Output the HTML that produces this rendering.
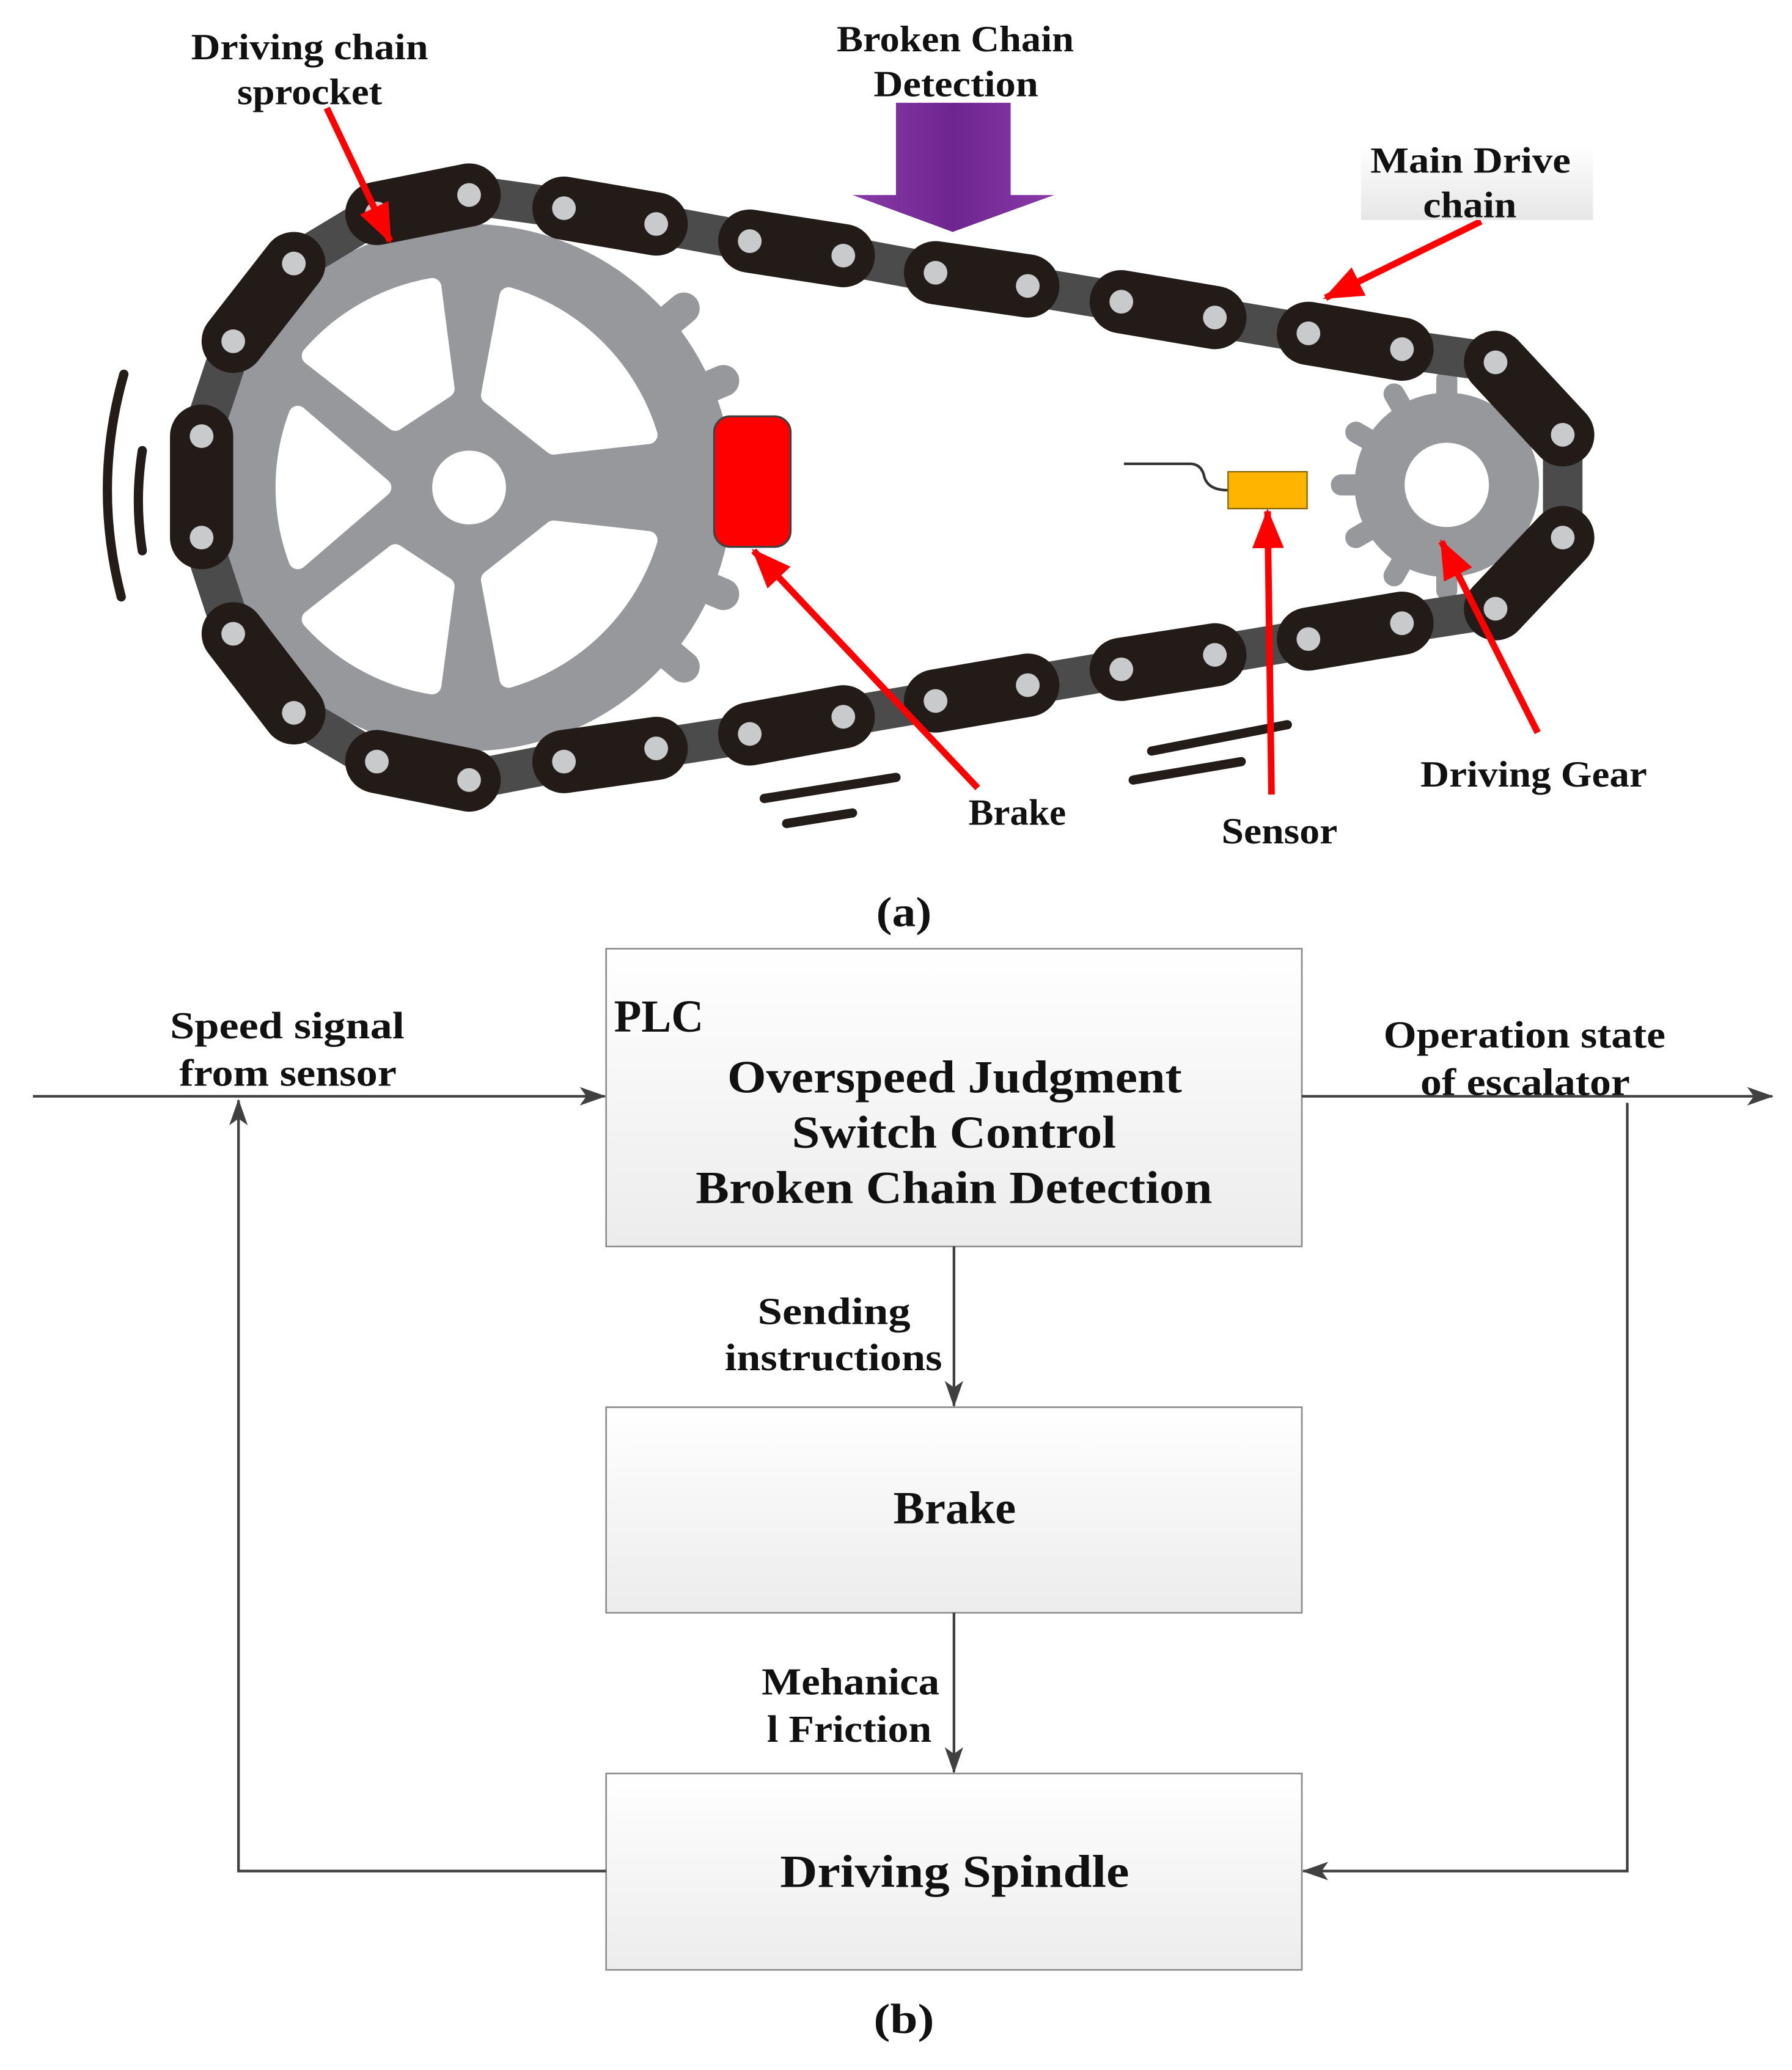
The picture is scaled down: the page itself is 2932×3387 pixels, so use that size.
<!DOCTYPE html>
<html><head><meta charset="utf-8"><style>html,body{margin:0;padding:0;background:#fff}svg{display:block}</style></head>
<body>
<svg xmlns="http://www.w3.org/2000/svg" width="2932" height="3387" viewBox="0 0 1360 1571" preserveAspectRatio="none" font-family="'Liberation Serif', serif">
<defs>
<linearGradient id="box" x1="0" y1="0" x2="0" y2="1"><stop offset="0" stop-color="#ffffff"/><stop offset="1" stop-color="#ececec"/></linearGradient>
<linearGradient id="pur" x1="0" y1="0" x2="1" y2="0"><stop offset="0" stop-color="#8a3aa8"/><stop offset="0.5" stop-color="#6e2590"/><stop offset="1" stop-color="#8a3aa8"/></linearGradient>
<linearGradient id="lbl" x1="0" y1="0" x2="0" y2="1"><stop offset="0" stop-color="#fff"/><stop offset="1" stop-color="#e6e6e6"/></linearGradient>
<marker id="ahb" viewBox="0 0 20 14" markerWidth="20" markerHeight="14" refX="19" refY="7" orient="auto" markerUnits="userSpaceOnUse"><path d="M0,0 L20,7 L0,14 L5,7 Z" fill="#404040"/></marker>
<marker id="rh" viewBox="0 0 30 24" markerWidth="30" markerHeight="24" refX="28" refY="12" orient="auto" markerUnits="userSpaceOnUse"><path d="M0,0 L30,12 L0,24 Z" fill="#ff0000"/></marker>
</defs>

<!-- big sprocket -->
<g fill="#97989c" stroke="#97989c" stroke-width="24" stroke-linecap="round">
<line x1="356" y1="370" x2="549" y2="289"/>
<line x1="356" y1="370" x2="549" y2="451"/>
<line x1="356" y1="370" x2="519" y2="234"/>
<line x1="356" y1="370" x2="519" y2="506"/>
<line x1="356" y1="370" x2="562" y2="370"/>
</g>
<circle cx="356" cy="370" r="200" fill="#97989c"/>
<g fill="#ffffff" stroke="#ffffff" stroke-width="14" stroke-linejoin="round">
<path d="M372,300 L386,225 A158,158 0 0 1 492,330 L420,338 Z"/>
<path d="M420,402 L492,410 A158,158 0 0 1 386,515 L372,440 Z"/>
<path d="M338,445 L328,520 A158,158 0 0 1 236,470 L300,420 Z"/>
<path d="M290,370 L226,425 A158,158 0 0 1 226,315 Z"/>
<path d="M300,320 L236,270 A158,158 0 0 1 328,218 L338,295 Z"/>
</g>
<circle cx="356" cy="370" r="28" fill="#fff"/>

<!-- small gear -->
<g stroke="#97989c" stroke-width="16" stroke-linecap="round">
<line x1="1098" y1="368" x2="1018" y2="368"/>
<line x1="1098" y1="368" x2="1029" y2="328"/>
<line x1="1098" y1="368" x2="1029" y2="408"/>
<line x1="1098" y1="368" x2="1058" y2="299"/>
<line x1="1098" y1="368" x2="1058" y2="437"/>
<line x1="1098" y1="368" x2="1098" y2="288"/>
<line x1="1098" y1="368" x2="1098" y2="448"/>
</g>
<circle cx="1098" cy="368" r="70" fill="#97989c"/>
<circle cx="1098" cy="368" r="32" fill="#fff"/>

<!-- chain band -->
<polygon points="286,162 356,148 428,158 498,170 569,183 640,194 710,207 780,217 851,229 922,241 993,253 1064,265 1135,275 1186,330 1186,408 1135,462 1064,473 993,485 922,497 851,508 780,520 710,532 640,544 569,557 498,568 428,578 356,592 286,578 223,541 177,481 153,408 153,331 177,259 223,200" fill="none" stroke="#4b4b4b" stroke-width="30" stroke-linejoin="round"/>
<g stroke="#221b18" stroke-width="48" stroke-linecap="round">
<line x1="286" y1="162" x2="356" y2="148"/>
<line x1="428" y1="158" x2="498" y2="170"/>
<line x1="569" y1="183" x2="640" y2="194"/>
<line x1="710" y1="207" x2="780" y2="217"/>
<line x1="851" y1="229" x2="922" y2="241"/>
<line x1="993" y1="253" x2="1064" y2="265"/>
<line x1="1135" y1="275" x2="1186" y2="330"/>
<line x1="1186" y1="408" x2="1135" y2="462"/>
<line x1="1064" y1="473" x2="993" y2="485"/>
<line x1="922" y1="497" x2="851" y2="508"/>
<line x1="780" y1="520" x2="710" y2="532"/>
<line x1="640" y1="544" x2="569" y2="557"/>
<line x1="498" y1="568" x2="428" y2="578"/>
<line x1="356" y1="592" x2="286" y2="578"/>
<line x1="223" y1="541" x2="177" y2="481"/>
<line x1="153" y1="408" x2="153" y2="331"/>
<line x1="177" y1="259" x2="223" y2="200"/>
</g>
<g fill="#c9cacc">
<circle cx="286" cy="162" r="9"/><circle cx="356" cy="148" r="9"/><circle cx="428" cy="158" r="9"/><circle cx="498" cy="170" r="9"/><circle cx="569" cy="183" r="9"/><circle cx="640" cy="194" r="9"/><circle cx="710" cy="207" r="9"/><circle cx="780" cy="217" r="9"/><circle cx="851" cy="229" r="9"/><circle cx="922" cy="241" r="9"/><circle cx="993" cy="253" r="9"/><circle cx="1064" cy="265" r="9"/><circle cx="1135" cy="275" r="9"/><circle cx="1186" cy="330" r="9"/><circle cx="1186" cy="408" r="9"/><circle cx="1135" cy="462" r="9"/><circle cx="1064" cy="473" r="9"/><circle cx="993" cy="485" r="9"/><circle cx="922" cy="497" r="9"/><circle cx="851" cy="508" r="9"/><circle cx="780" cy="520" r="9"/><circle cx="710" cy="532" r="9"/><circle cx="640" cy="544" r="9"/><circle cx="569" cy="557" r="9"/><circle cx="498" cy="568" r="9"/><circle cx="428" cy="578" r="9"/><circle cx="356" cy="592" r="9"/><circle cx="286" cy="578" r="9"/><circle cx="223" cy="541" r="9"/><circle cx="177" cy="481" r="9"/><circle cx="153" cy="408" r="9"/><circle cx="153" cy="331" r="9"/><circle cx="177" cy="259" r="9"/><circle cx="223" cy="200" r="9"/>
</g>

<g stroke="#231c19" stroke-width="7" stroke-linecap="round" fill="none">
<path d="M94,284 Q70,368 92,453"/>
<path d="M108,342 Q102,380 108,418"/>
<line x1="580" y1="606" x2="680" y2="590"/>
<line x1="597" y1="625" x2="647" y2="617"/>
<line x1="874" y1="570" x2="977" y2="550"/>
<line x1="860" y1="592" x2="942" y2="578"/>
</g>

<rect x="542" y="316" width="58" height="99" rx="12" fill="#ff0000" stroke="#404040" stroke-width="1.5"/>
<path d="M853,352 L903,352 Q912,352 914,362 Q917,372 932,372" fill="none" stroke="#333" stroke-width="2"/>
<rect x="932" y="358" width="60" height="28" fill="#ffb400" stroke="#806000" stroke-width="1"/>

<path d="M680,78 L767,78 L767,148 L800,148 L723,176 L647,148 L680,148 Z" fill="url(#pur)"/>

<g stroke="#ff0000" stroke-width="5" fill="none">
<line x1="248" y1="82" x2="296" y2="183" marker-end="url(#rh)"/>
<line x1="742" y1="598" x2="572" y2="418" marker-end="url(#rh)"/>
<line x1="1124" y1="168" x2="1006" y2="226" marker-end="url(#rh)"/>
<line x1="965" y1="603" x2="962" y2="388" marker-end="url(#rh)"/>
<line x1="1167" y1="556" x2="1094" y2="411" marker-end="url(#rh)"/>
</g>

<rect x="1033" y="110" width="176" height="57" fill="url(#lbl)"/>

<g font-size="28" font-weight="bold" fill="#111" lengthAdjust="spacingAndGlyphs">
<text x="145" y="45" textLength="180" lengthAdjust="spacingAndGlyphs">Driving chain</text>
<text x="180" y="79" textLength="110" lengthAdjust="spacingAndGlyphs">sprocket</text>
<text x="635" y="39" textLength="180" lengthAdjust="spacingAndGlyphs">Broken Chain</text>
<text x="663" y="73" textLength="125" lengthAdjust="spacingAndGlyphs">Detection</text>
<text x="1040" y="131" textLength="152" lengthAdjust="spacingAndGlyphs">Main Drive</text>
<text x="1080" y="165" textLength="71" lengthAdjust="spacingAndGlyphs">chain</text>
<text x="735" y="626" textLength="74" lengthAdjust="spacingAndGlyphs">Brake</text>
<text x="927" y="640" textLength="88" lengthAdjust="spacingAndGlyphs">Sensor</text>
<text x="1078" y="597" textLength="172" lengthAdjust="spacingAndGlyphs">Driving Gear</text>
<text x="665" y="703" font-size="32" textLength="42" lengthAdjust="spacingAndGlyphs">(a)</text>
</g>

<g fill="url(#box)" stroke="#8a8a8a" stroke-width="1.2">
<rect x="460" y="720" width="528" height="226"/>
<rect x="460" y="1068" width="528" height="156"/>
<rect x="460" y="1346" width="528" height="149"/>
</g>
<g fill="#111" font-size="35" font-weight="bold">
<text x="466" y="783" textLength="68" lengthAdjust="spacingAndGlyphs">PLC</text>
<text x="552" y="829" textLength="345" lengthAdjust="spacingAndGlyphs">Overspeed Judgment</text>
<text x="601" y="871" textLength="246" lengthAdjust="spacingAndGlyphs">Switch Control</text>
<text x="528" y="913" textLength="392" lengthAdjust="spacingAndGlyphs">Broken Chain Detection</text>
<text x="678" y="1156" textLength="93" lengthAdjust="spacingAndGlyphs">Brake</text>
<text x="592" y="1432" textLength="265" lengthAdjust="spacingAndGlyphs">Driving Spindle</text>
</g>

<g stroke="#404040" stroke-width="2" fill="none">
<line x1="25" y1="832" x2="459" y2="832" marker-end="url(#ahb)"/>
<line x1="988" y1="832" x2="1345" y2="832" marker-end="url(#ahb)"/>
<line x1="724" y1="946" x2="724" y2="1067" marker-end="url(#ahb)"/>
<line x1="724" y1="1224" x2="724" y2="1345" marker-end="url(#ahb)"/>
<polyline points="460,1420 181,1420 181,835" marker-end="url(#ahb)"/>
<polyline points="1235,837 1235,1420 989,1420" marker-end="url(#ahb)"/>
</g>

<g fill="#111" font-size="29" font-weight="bold">
<text x="129" y="788" textLength="178" lengthAdjust="spacingAndGlyphs">Speed signal</text>
<text x="136" y="824" textLength="165" lengthAdjust="spacingAndGlyphs">from sensor</text>
<text x="1050" y="795" textLength="214" lengthAdjust="spacingAndGlyphs">Operation state</text>
<text x="1078" y="831" textLength="159" lengthAdjust="spacingAndGlyphs">of escalator</text>
<text x="575" y="1005" textLength="116" lengthAdjust="spacingAndGlyphs">Sending</text>
<text x="550" y="1040" textLength="165" lengthAdjust="spacingAndGlyphs">instructions</text>
<text x="578" y="1286" textLength="135" lengthAdjust="spacingAndGlyphs">Mehanica</text>
<text x="582" y="1322" textLength="125" lengthAdjust="spacingAndGlyphs">l Friction</text>
<text x="663" y="1543" font-size="32" textLength="46" lengthAdjust="spacingAndGlyphs">(b)</text>
</g>
</svg>
</body></html>
